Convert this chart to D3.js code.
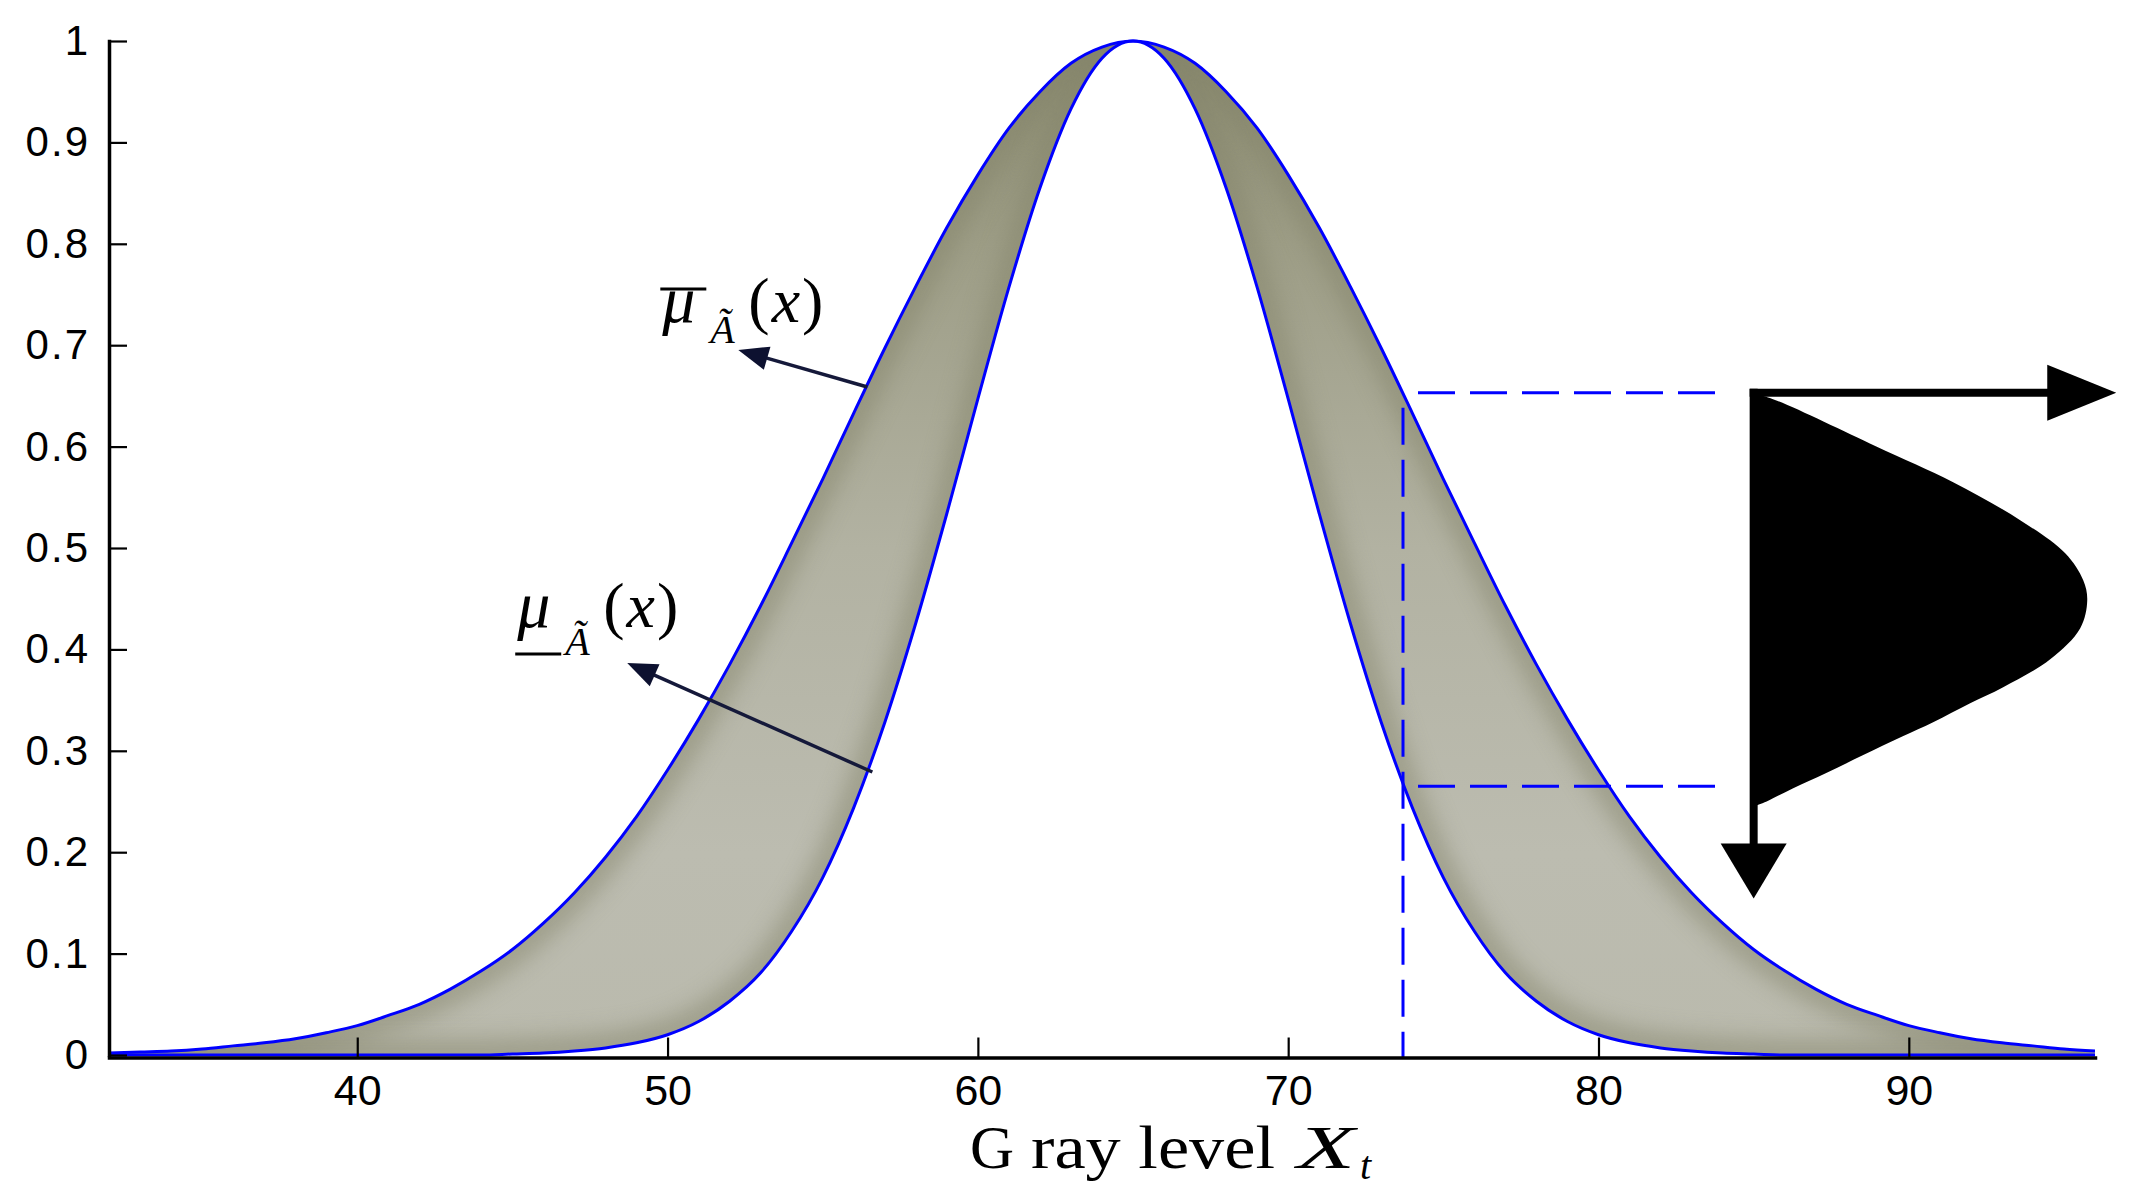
<!DOCTYPE html>
<html>
<head>
<meta charset="utf-8">
<script src="https://cdn.jsdelivr.net/npm/d3@7"></script>
<style>
html,body{margin:0;padding:0;background:#fff;}
svg{display:block;}
</style>
</head>
<body>
<svg id="chart" width="2144" height="1192"></svg>
<script>
// ---------- data ----------
const xValues = [32,33,34,35,36,37,38,39,40,41,42,43,44,45,46,47,48,49,50,51,52,53,54,55,56,57,58,59,60,61,62,63,64,65,
                 66,67,68,69,70,71,72,73,74,75,76,77,78,79,80,81,82,83,84,85,86,87,88,89,90,91,92,93,94,95,96];
// upper membership function  (outer curve)
const upperMF = [0.002,0.003,0.004,0.006,0.009,0.012,0.016,0.022,0.029,0.039,0.050,0.065,0.083,0.104,0.130,0.160,0.195,
                 0.235,0.281,0.331,0.385,0.443,0.505,0.568,0.633,0.697,0.758,0.816,0.868,0.914,0.950,0.978,0.994,1.000,
                 0.994,0.978,0.950,0.914,0.868,0.816,0.758,0.697,0.633,0.568,0.505,0.443,0.385,0.331,0.281,0.235,0.195,
                 0.160,0.130,0.104,0.083,0.065,0.050,0.039,0.029,0.022,0.016,0.012,0.009,0.006,0.004];
// lower membership function  (inner curve)
const lowerMF = [0,0,0,0,0,0,0,0,0,0,0,0,0,0.001,0.002,0.004,0.007,0.012,0.020,0.033,0.053,0.081,0.122,0.175,0.244,
                 0.328,0.426,0.534,0.647,0.757,0.855,0.933,0.983,1.000,0.983,0.933,0.855,0.757,0.647,0.534,0.426,0.328,
                 0.244,0.175,0.122,0.081,0.053,0.033,0.020,0.012,0.007,0.004,0.002,0.001,0,0,0,0,0,0,0,0,0,0,0];

const xTicks = [40,50,60,70,80,90];
const xTickLabels = ["40","50","60","70","80","90"];
const yTicks = [0,0.1,0.2,0.3,0.4,0.5,0.6,0.7,0.8,0.9,1];
const yTickLabels = ["0","0.1","0.2","0.3","0.4","0.5","0.6","0.7","0.8","0.9","1"];

// vertical slice at x'
const sliceX = 73.7;
const sliceU = [0.265, 0.653];     // lower / upper membership at the slice
const dashEndX = 83.8;

// secondary membership function (vertical slice, drawn rotated)
const secOriginX = 85;
const secFullX = 95.75;
const secU =     [0.6526,0.6458,0.6004,0.5649,0.5274,0.4948,0.4682,0.4484,0.4208,0.3902,0.3626,0.3468,0.3281,0.3143,0.2955,0.2778,0.2629,0.2501,0.2452];
const secGrade = [0,     0.066, 0.366, 0.598, 0.799, 0.934, 0.988, 1.000, 0.979, 0.889, 0.748, 0.649, 0.538, 0.447, 0.327, 0.216, 0.117, 0.039, 0];
const secArrowTipGrade = 1.087;
const secArrowTipU = 0.1544;

// annotation arrows [x, u]
const upperArrow = {from:[56.44,0.6588], to:[52.28,0.6953]};
const lowerArrow = {from:[56.60,0.2791], to:[48.70,0.3866]};

// ---------- drawing ----------
const svg = d3.select("#chart");
const x = d3.scaleLinear().domain([32,96]).range([109,2095]);
const y = d3.scaleLinear().domain([0,1]).range([1055,41]);
const g = d3.scaleLinear().domain([0,1]).range([x(secOriginX), x(secFullX)]);

const data = xValues.map((v,i)=>({x:v, up:upperMF[i], lo:lowerMF[i]}));

const defs = svg.append("defs");
const area = d3.area().x(d=>x(d.x)).y0(d=>y(d.lo)).y1(d=>y(d.up)).curve(d3.curveMonotoneX);
const upLine = d3.line().x(d=>x(d.x)).y(d=>y(d.up)).curve(d3.curveMonotoneX);
const loLine = d3.line().x(d=>x(d.x)).y(d=>y(d.lo)).curve(d3.curveMonotoneX);

defs.append("clipPath").attr("id","bandClip").append("path").attr("d", area(data));
const grad = defs.append("linearGradient").attr("id","bandGrad")
  .attr("gradientUnits","userSpaceOnUse").attr("x1",0).attr("x2",0).attr("y1",y(1)).attr("y2",y(0));
[[0,"#8a8a6f"],[0.2,"#9d9d86"],[0.5,"#b2b2a2"],[0.8,"#bcbcb0"],[1,"#babaad"]].forEach(s=>
  grad.append("stop").attr("offset",s[0]).attr("stop-color",s[1]));
defs.append("filter").attr("id","blur").attr("filterUnits","userSpaceOnUse")
  .attr("x",0).attr("y",0).attr("width",2144).attr("height",1192)
  .append("feGaussianBlur").attr("stdDeviation",11);

// band fill
svg.append("path").attr("d", area(data)).attr("fill","url(#bandGrad)");
const shade = svg.append("g").attr("clip-path","url(#bandClip)");
shade.append("path").attr("d", upLine(data)).attr("fill","none").attr("stroke","#84846a")
  .attr("stroke-width",32).attr("opacity",0.5).attr("filter","url(#blur)");
shade.append("path").attr("d", loLine(data)).attr("fill","none").attr("stroke","#84846a")
  .attr("stroke-width",32).attr("opacity",0.5).attr("filter","url(#blur)");

// blue curves
svg.append("path").attr("d", loLine(data)).attr("fill","none").attr("stroke","#0000ff").attr("stroke-width",3);
svg.append("path").attr("d", upLine(data)).attr("fill","none").attr("stroke","#0000ff").attr("stroke-width",3);

// dashed slice lines
const dash = svg.append("g").attr("stroke","#0000ff").attr("stroke-width",3).attr("stroke-dasharray","37,15").attr("fill","none");
dash.append("line").attr("x1",x(sliceX)).attr("x2",x(sliceX)).attr("y1",y(sliceU[1])).attr("y2",y(0)+4).attr("stroke-dashoffset",37);
sliceU.forEach(u=>{
  dash.append("line").attr("x1",x(sliceX)).attr("x2",x(dashEndX)).attr("y1",y(u)).attr("y2",y(u)).attr("stroke-dashoffset",37);
});

// axes
const yAxis = d3.axisLeft(y).tickValues(yTicks).tickFormat((d,i)=>yTickLabels[i]).tickSizeInner(-18).tickSizeOuter(0).tickPadding(19);
const xAxis = d3.axisBottom(x).tickValues(xTicks).tickFormat((d,i)=>xTickLabels[i]).tickSizeInner(-20).tickSizeOuter(0).tickPadding(17);
const ya = svg.append("g").attr("transform",`translate(${x(32)},0)`).call(yAxis);
const xa = svg.append("g").attr("transform",`translate(0,${y(0)+2.5})`).call(xAxis);
[ya,xa].forEach(a=>{
  a.select(".domain").attr("stroke","#000").attr("stroke-width",3.5).attr("stroke-linecap","square");
  a.selectAll(".tick line").attr("stroke","#000").attr("stroke-width",2.2);
  a.selectAll(".tick text").attr("fill","#000").attr("font-family","'Liberation Sans', Arial, sans-serif");
});
ya.selectAll(".tick text").attr("font-size",42).attr("letter-spacing",2);
xa.selectAll(".tick text").attr("font-size",43);

// secondary MF shape
const secPts = secU.map((u,i)=>[g(secGrade[i]), y(u)]);
svg.append("path").attr("d", d3.line().curve(d3.curveCatmullRom)(secPts)+"Z").attr("fill","#000");
const topY = y(sliceU[1]);
const ox = g(0);
const tipX = g(secArrowTipGrade);
svg.append("line").attr("x1",ox-4).attr("x2",tipX-66).attr("y1",topY).attr("y2",topY).attr("stroke","#000").attr("stroke-width",8);
svg.append("polygon").attr("points",[[tipX,topY],[tipX-69,topY-28],[tipX-69,topY+28]].join(" ")).attr("fill","#000");
const tipY = y(secArrowTipU);
svg.append("line").attr("x1",ox).attr("x2",ox).attr("y1",topY-4).attr("y2",tipY-52).attr("stroke","#000").attr("stroke-width",8);
svg.append("polygon").attr("points",[[ox,tipY],[ox-33,tipY-55],[ox+33,tipY-55]].join(" ")).attr("fill","#000");

// annotation arrows
function arrow(a){
  const x1=x(a.from[0]), y1=y(a.from[1]), x2=x(a.to[0]), y2=y(a.to[1]);
  const dx=x2-x1, dy=y2-y1, L=Math.hypot(dx,dy), ux=dx/L, uy=dy/L;
  const hl=30, hw=12;
  const bx=x2-ux*hl, by=y2-uy*hl;
  svg.append("line").attr("x1",x1).attr("y1",y1).attr("x2",bx+ux*4).attr("y2",by+uy*4)
    .attr("stroke","#15193a").attr("stroke-width",3.5);
  svg.append("polygon").attr("points",[[x2,y2],[bx-uy*hw,by+ux*hw],[bx+uy*hw,by-ux*hw]].join(" ")).attr("fill","#0d1130");
  return [x2,y2];
}
const ut = arrow(upperArrow);
const lt = arrow(lowerArrow);

// math labels
function mathLabel(px, base, over, subDy){
  const f = "'Liberation Serif', 'Times New Roman', serif";
  svg.append("text").attr("x",px).attr("y",base).attr("font-family",f).attr("font-style","italic")
    .attr("font-size",66).text("μ");
  const barY = over ? base-33 : base+27;
  svg.append("line").attr("x1",px-2).attr("x2",px+44).attr("y1",barY).attr("y2",barY).attr("stroke","#000").attr("stroke-width",3);
  svg.append("text").attr("x",px+48).attr("y",base+subDy).attr("font-family",f).attr("font-style","italic")
    .attr("font-size",40).text("Ã");
  const t = svg.append("text").attr("x",px+86).attr("y",base).attr("font-family",f).attr("font-size",64);
  t.append("tspan").text("(");
  t.append("tspan").attr("font-style","italic").attr("dx",2).text("x");
  t.append("tspan").attr("dx",2).text(")");
}
mathLabel(ut[0]-76, ut[1]-28, true, 21);
mathLabel(lt[0]-110, lt[1]-36, false, 28);

// x axis title
const tf = "'Liberation Serif', 'Times New Roman', serif";
const title = svg.append("g");
title.append("text").attr("x",970).attr("y",1168).attr("font-family",tf).attr("font-size",61).text("G");
title.append("text").attr("x",1031).attr("y",1168).attr("font-family",tf).attr("font-size",61)
  .attr("textLength",244).attr("lengthAdjust","spacingAndGlyphs").text("ray level");
title.append("text").attr("x",1297).attr("y",1168).attr("font-family",tf).attr("font-size",61).attr("font-style","italic")
  .attr("textLength",58).attr("lengthAdjust","spacingAndGlyphs").text("X");
title.append("text").attr("x",1360).attr("y",1179).attr("font-family",tf).attr("font-size",40).attr("font-style","italic").text("t");
</script>
</body>
</html>
